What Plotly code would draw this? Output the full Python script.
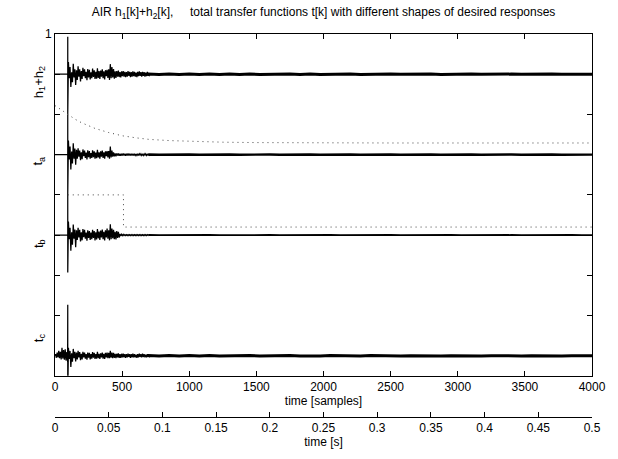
import plotly.graph_objects as go

# ---------------- data ----------------
spike_sample = 95
early_grid = list(range(100, 700, 6))           # 100 samples after the main spike
tail_grid = list(range(700, 4001, 75))          # 45 samples for the decaying tail
tc_pre_grid = list(range(4, 95, 6))             # t_c has noise before the spike (16)

# spike extents (up, down) in units of one tick step
h12_spike = [0.93, -1.0]
ta_spike = [1.0, -1.0]
tb_spike = [1.0, -0.93]
tc_spike = [1.27, -1.0]

h12_early = [0.30, -0.10, 0.18, -0.32, 0.05, -0.20, 0.26, -0.08, 0.12, -0.27,
             0.10, -0.14, 0.20, -0.06, 0.12, -0.18, 0.08, -0.12, 0.16, -0.05,
             0.12, -0.10, 0.06, -0.15, 0.13, -0.08, 0.11, -0.13, 0.05, -0.10,
             0.14, -0.07, 0.10, -0.12, 0.06, -0.11, 0.15, -0.09, 0.08, -0.12,
             0.09, -0.06, 0.12, -0.10, 0.07, -0.13, 0.10, -0.05, 0.11, -0.09,
             0.12, -0.14, 0.25, -0.10, 0.18, -0.08, 0.13, -0.11, 0.07, -0.09,
             0.08, -0.06, 0.09, -0.07, 0.05, -0.08, 0.07, -0.05, 0.08, -0.06,
             0.06, -0.07, 0.05, -0.06, 0.08, -0.04, 0.06, -0.07, 0.05, -0.06,
             0.07, -0.05, 0.06, -0.06, 0.04, -0.07, 0.06, -0.05, 0.07, -0.04,
             0.05, -0.06, 0.06, -0.04, 0.05, -0.06, 0.04, -0.05, 0.06, -0.04]
h12_tail = [0.006, -0.005, 0.007, -0.006, 0.004, -0.006, 0.006, -0.004, 0.005, -0.006,
            0.005, -0.005, 0.004, -0.005, 0.005, -0.004, 0.005, -0.005, 0.004, -0.004,
            0.004, -0.004, 0.003, -0.004, 0.004, -0.003, 0.004, -0.004, 0.003, -0.004,
            0.004, -0.003, 0.003, -0.003, 0.003, -0.004, 0.003, -0.003, 0.003, -0.003,
            0.003, -0.003, 0.003, -0.003, 0.0]

ta_early = [0.35, -0.12, 0.20, -0.37, 0.08, -0.22, 0.28, -0.10, 0.15, -0.25,
            0.12, -0.10, 0.16, -0.05, 0.10, -0.14, 0.06, -0.11, 0.13, -0.04,
            0.10, -0.08, 0.05, -0.12, 0.11, -0.06, 0.09, -0.10, 0.04, -0.08,
            0.11, -0.06, 0.08, -0.10, 0.05, -0.09, 0.12, -0.07, 0.06, -0.10,
            0.08, -0.05, 0.10, -0.08, 0.06, -0.10, 0.08, -0.04, 0.09, -0.07,
            0.09, -0.10, 0.20, -0.07, 0.10, -0.05, 0.06, -0.04, 0.03, -0.04,
            0.03, -0.02, 0.03, -0.03, 0.02, -0.03, 0.02, -0.02, 0.03, -0.02,
            0.02, -0.03, 0.02, -0.02, 0.03, -0.02, 0.02, -0.02, 0.02, -0.02,
            0.02, -0.02, 0.02, -0.02, 0.01, -0.02, 0.02, -0.02, 0.02, -0.01,
            0.02, -0.02, 0.01, -0.02, 0.02, -0.01, 0.02, -0.02, 0.01, -0.02]
ta_tail = [0.003, -0.003, 0.004, -0.003, 0.003, -0.003, 0.003, -0.004, 0.003, -0.003,
           0.003, -0.003, 0.003, -0.003, 0.004, -0.003, 0.003, -0.003, 0.003, -0.003,
           0.003, -0.003, 0.003, -0.003, 0.003, -0.004, 0.003, -0.003, 0.003, -0.003,
           0.003, -0.003, 0.003, -0.003, 0.003, -0.003, 0.003, -0.003, 0.003, -0.003,
           0.003, -0.003, 0.003, -0.003, 0.0]

tb_early = [0.34, -0.10, 0.18, -0.39, 0.07, -0.24, 0.26, -0.09, 0.14, -0.30,
            0.12, -0.12, 0.18, -0.06, 0.13, -0.16, 0.07, -0.13, 0.15, -0.05,
            0.13, -0.09, 0.06, -0.14, 0.12, -0.07, 0.10, -0.12, 0.06, -0.10,
            0.13, -0.07, 0.10, -0.13, 0.07, -0.11, 0.15, -0.08, 0.09, -0.12,
            0.11, -0.06, 0.14, -0.10, 0.08, -0.13, 0.12, -0.06, 0.16, -0.09,
            0.12, -0.13, 0.27, -0.10, 0.16, -0.08, 0.13, -0.10, 0.08, -0.11,
            0.10, -0.07, 0.08, -0.06, 0.03, -0.02, 0.02, -0.01, 0.02, -0.01,
            0.01, -0.01, 0.01, -0.01, 0.01, -0.01, 0.01, -0.01, 0.01, -0.01,
            0.01, -0.01, 0.01, -0.01, 0.01, -0.01, 0.01, -0.01, 0.01, -0.01,
            0.01, -0.01, 0.01, -0.01, 0.01, -0.01, 0.01, -0.01, 0.01, -0.01]
tb_tail = [0.002, -0.002, 0.002, -0.002, 0.002, -0.002, 0.002, -0.002, 0.002, -0.002,
           0.002, -0.002, 0.002, -0.002, 0.002, -0.002, 0.002, -0.002, 0.002, -0.002,
           0.002, -0.002, 0.002, -0.002, 0.002, -0.002, 0.002, -0.002, 0.002, -0.002,
           0.002, -0.002, 0.002, -0.002, 0.002, -0.002, 0.002, -0.002, 0.002, -0.002,
           0.002, -0.002, 0.002, -0.002, 0.0]

tc_pre = [0.04, -0.05, 0.08, -0.04, 0.12, -0.06, 0.10, -0.09,
          0.20, -0.07, 0.14, -0.10, 0.16, -0.12, 0.09, -0.15]
tc_early = [0.20, -0.08, 0.12, -0.28, 0.06, -0.15, 0.17, -0.06, 0.10, -0.14,
            0.08, -0.09, 0.12, -0.04, 0.09, -0.11, 0.05, -0.09, 0.10, -0.04,
            0.08, -0.07, 0.04, -0.10, 0.08, -0.05, 0.07, -0.09, 0.04, -0.07,
            0.09, -0.05, 0.07, -0.08, 0.04, -0.07, 0.10, -0.06, 0.05, -0.08,
            0.06, -0.04, 0.08, -0.07, 0.05, -0.08, 0.07, -0.04, 0.08, -0.06,
            0.07, -0.06, 0.12, -0.05, 0.08, -0.06, 0.07, -0.05, 0.05, -0.06,
            0.05, -0.04, 0.06, -0.05, 0.04, -0.05, 0.05, -0.04, 0.05, -0.04,
            0.04, -0.05, 0.04, -0.04, 0.05, -0.03, 0.04, -0.05, 0.04, -0.04,
            0.05, -0.04, 0.04, -0.04, 0.03, -0.05, 0.04, -0.04, 0.05, -0.03,
            0.04, -0.04, 0.05, -0.03, 0.04, -0.04, 0.03, -0.04, 0.04, -0.03]
tc_tail = [0.006, -0.005, 0.005, -0.006, 0.005, -0.004, 0.006, -0.005, 0.004, -0.005,
           0.005, -0.004, 0.004, -0.005, 0.004, -0.004, 0.005, -0.004, 0.004, -0.004,
           0.004, -0.004, 0.004, -0.003, 0.004, -0.004, 0.003, -0.004, 0.004, -0.003,
           0.003, -0.003, 0.004, -0.003, 0.003, -0.003, 0.003, -0.003, 0.003, -0.003,
           0.003, -0.003, 0.003, -0.003, 0.0]

# desired responses (dotted)
ta_des_samples = [0, 50, 100, 150, 200, 300, 400, 500, 600, 700, 850, 1000,
                  1250, 1500, 2000, 2500, 3000, 4000]
ta_des_values = [1.22, 1.10, 0.99, 0.88, 0.79, 0.65, 0.55, 0.47, 0.42, 0.38,
                 0.35, 0.33, 0.31, 0.30, 0.29, 0.29, 0.29, 0.29]
tb_des_samples = [95, 510, 510, 4000]
tb_des_values = [1.0, 1.0, 0.2, 0.2]

x_ticks = [0, 500, 1000, 1500, 2000, 2500, 3000, 3500, 4000]
s_ticks = [0, 0.05, 0.1, 0.15, 0.2, 0.25, 0.3, 0.35, 0.4, 0.45, 0.5]
s_labels = ["0", "0.05", "0.1", "0.15", "0.2", "0.25", "0.3", "0.35", "0.4", "0.45", "0.5"]
y_ticks = [-7, -6, -5, -4, -3, -2, -1, 0, 1]
y_labels = ["", "", "", "", "", "", "", "", "1"]

# ---------------- layout / style constants ----------------
offsets = {"h12": 0, "ta": -2, "tb": -4, "tc": -7}
tail_width = {"h12": 3.0, "ta": 2.4, "tb": 1.8, "tc": 3.0}
EARLY_W = 1.25
FONT = "Liberation Sans, Arial, Helvetica, sans-serif"
FS = 12

fig = go.Figure()


def add_signal(key, spike, early, tail, pre_x=None, pre_y=None):
    off = offsets[key]
    if pre_x is None:
        xs = [0, spike_sample]
        ys = [0, 0]
    else:
        xs = [0] + pre_x
        ys = [0] + pre_y
    xs = xs + [spike_sample, spike_sample] + early_grid
    ys = ys + spike + early
    fig.add_trace(go.Scatter(x=xs, y=[off + v for v in ys], mode="lines",
                             line=dict(color="black", width=EARLY_W),
                             hoverinfo="skip", showlegend=False))
    tx = [early_grid[-1]] + tail_grid
    ty = [early[-1]] + tail
    fig.add_trace(go.Scatter(x=tx, y=[off + v for v in ty], mode="lines",
                             line=dict(color="black", width=tail_width[key]),
                             hoverinfo="skip", showlegend=False))


add_signal("h12", h12_spike, h12_early, h12_tail)
add_signal("ta", ta_spike, ta_early, ta_tail)
add_signal("tb", tb_spike, tb_early, tb_tail)
add_signal("tc", tc_spike, tc_early, tc_tail, tc_pre_grid, tc_pre)

fig.add_trace(go.Scatter(x=ta_des_samples, y=[offsets["ta"] + v for v in ta_des_values],
                         mode="lines", line=dict(color="#444", width=1, dash="1px,4px"),
                         hoverinfo="skip", showlegend=False))
fig.add_trace(go.Scatter(x=tb_des_samples, y=[offsets["tb"] + v for v in tb_des_values],
                         mode="lines", line=dict(color="#444", width=1, dash="1px,4px"),
                         hoverinfo="skip", showlegend=False))

# dummy trace to carry the second (seconds) axis
fig.add_trace(go.Scatter(x=[s_ticks[0], s_ticks[-1]], y=[None, None], xaxis="x2",
                         mode="lines", hoverinfo="skip", showlegend=False))

ylab = [("h<sub>1</sub>+h<sub>2</sub>", offsets["h12"] - 0.2),
        ("t<sub>a</sub>", offsets["ta"] - 0.15),
        ("t<sub>b</sub>", offsets["tb"] - 0.2),
        ("t<sub>c</sub>", offsets["tc"] + 0.46)]
for txt, yv in ylab:
    fig.add_annotation(text=txt, xref="paper", yref="y", x=-0.03, y=yv,
                       textangle=-90, showarrow=False, xanchor="center", yanchor="middle",
                       font=dict(family=FONT, size=13, color="black"))

axis_common = dict(showline=True, linecolor="black", linewidth=1, ticks="inside",
                   ticklen=5, tickcolor="black", showgrid=False, zeroline=False,
                   tickfont=dict(family=FONT, size=FS, color="black"))

fig.update_layout(
    width=618, height=459,
    margin=dict(l=55, r=23, t=34, b=34),
    paper_bgcolor="white", plot_bgcolor="white",
    font=dict(family=FONT, size=FS, color="black"),
    title=dict(text="AIR h<sub>1</sub>[k]+h<sub>2</sub>[k],\u00a0\u00a0\u00a0\u00a0 total transfer functions t[k] with different shapes of desired responses",
               x=0.5, xref="paper", xanchor="center", y=1 - 12 / 459, yref="container",
               yanchor="middle", font=dict(family=FONT, size=FS, color="black")),
    xaxis=dict(range=[0, 4000], tickvals=x_ticks, mirror="ticks", anchor="y",
               title=dict(text="time [samples]", standoff=3, font=dict(family=FONT, size=FS)),
               **axis_common),
    yaxis=dict(range=[-7.5, 1], tickvals=y_ticks, ticktext=y_labels, mirror="ticks",
               domain=[0.1074, 1], **axis_common),
    xaxis2=dict(range=[0, 0.5], tickvals=s_ticks, ticktext=s_labels, overlaying="x",
                anchor="free", position=0, side="bottom",
                title=dict(text="time [s]", standoff=3, font=dict(family=FONT, size=FS)),
                **axis_common),
)

fig.write_html("out.html")
